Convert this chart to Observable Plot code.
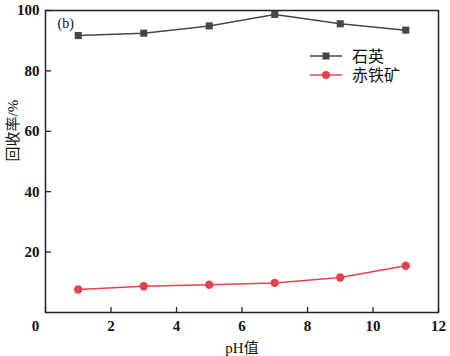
<!DOCTYPE html>
<html><head><meta charset="utf-8">
<script src="https://cdn.jsdelivr.net/npm/d3@7"></script>
<script src="https://cdn.jsdelivr.net/npm/@observablehq/plot@0.6"></script>
<style>
body{margin:0;background:#fff;}
#chart svg{overflow:visible;}
</style>
</head><body><div id="chart"></div>
<script>
const pH = [1, 3, 5, 7, 9, 11];
const quartz = [91.7, 92.5, 94.9, 98.7, 95.6, 93.5];
const hematite = [7.6, 8.7, 9.2, 9.8, 11.6, 15.5];
const seriesNames = ["石英", "赤铁矿"];
const colors = ["#464646", "#e3424c"];
const xTicks = [0, 2, 4, 6, 8, 10, 12];
const yTicks = [20, 40, 60, 80, 100];

const rows = [];
pH.forEach((p, i) => {
  rows.push({pH: p, v: quartz[i], s: seriesNames[0]});
  rows.push({pH: p, v: hematite[i], s: seriesNames[1]});
});
const q = rows.filter(d => d.s === seriesNames[0]);
const h = rows.filter(d => d.s === seriesNames[1]);

const serif = "'Liberation Serif', 'Noto Sans CJK SC', serif";
const cjk = "'Liberation Serif', 'Noto Sans CJK SC', sans-serif";

function legend(index, scales, values, dims) {
  const g = d3.create("svg:g");
  const x0 = 310, x1 = 342, tx = 352;
  const ys = [56, 75];
  seriesNames.forEach((n, i) => {
    const y = ys[i];
    g.append("line").attr("x1", x0).attr("x2", x1).attr("y1", y).attr("y2", y)
      .attr("stroke", colors[i]).attr("stroke-width", 1.5);
    if (i === 0) g.append("rect").attr("x", 326 - 3.5).attr("y", y - 3.5).attr("width", 7).attr("height", 7).attr("fill", colors[i]);
    else g.append("circle").attr("cx", 326).attr("cy", y).attr("r", 4).attr("fill", colors[i]);
    g.append("text").attr("x", tx).attr("y", y).attr("dy", "0.35em").attr("text-anchor", "start")
      .attr("font-family", cjk).attr("font-size", 16).attr("fill", "#111").text(n);
  });
  return g.node();
}

const tickStyle = {fontSize: 15, fontWeight: "bold", fontFamily: serif, fill: "#111"};

const chart = Plot.plot({
  width: 450, height: 356,
  marginLeft: 45, marginRight: 12, marginTop: 10, marginBottom: 44,
  style: {fontFamily: serif, fontSize: "15px", color: "#111", background: "#fff"},
  x: {domain: [0, 12], label: null},
  y: {domain: [0, 100], label: null},
  marks: [
    Plot.axisX({ticks: xTicks, tickSize: -5, tickPadding: 13, tickFormat: d => d === 0 ? "" : String(d), stroke: "#222", strokeWidth: 1.3, ...tickStyle}),
    Plot.text([0], {x: d => d, frameAnchor: "bottom", dy: 18, dx: -10, text: d => String(d), ...tickStyle}),
    Plot.axisY({ticks: yTicks, tickSize: -6, tickPadding: 12, tickFormat: d => String(d), stroke: "#222", strokeWidth: 1.3, ...tickStyle}),
    Plot.frame({stroke: "#222", strokeWidth: 1.5}),
    Plot.line(q, {x: "pH", y: "v", stroke: colors[0], strokeWidth: 1.5}),
    Plot.dot(q, {x: "pH", y: "v", symbol: "square", r: 4, fill: colors[0]}),
    Plot.line(h, {x: "pH", y: "v", stroke: colors[1], strokeWidth: 1.5}),
    Plot.dot(h, {x: "pH", y: "v", symbol: "circle", r: 4.2, fill: colors[1]}),
    Plot.text(["(b)"], {frameAnchor: "top-left", dx: 12, dy: 8, text: d => d, fontSize: 14, fontFamily: serif, fill: "#111", textAnchor: "start"}),
    Plot.text(["pH值"], {frameAnchor: "bottom", dy: 40, text: d => d, fontSize: 15, fontFamily: cjk, fill: "#111"}),
    Plot.text(["回收率/%"], {frameAnchor: "left", dx: -32, rotate: -90, text: d => d, fontSize: 15, fontFamily: cjk, fill: "#111"}),
    legend
  ]
});
document.getElementById("chart").appendChild(chart);
</script>
</body></html>
